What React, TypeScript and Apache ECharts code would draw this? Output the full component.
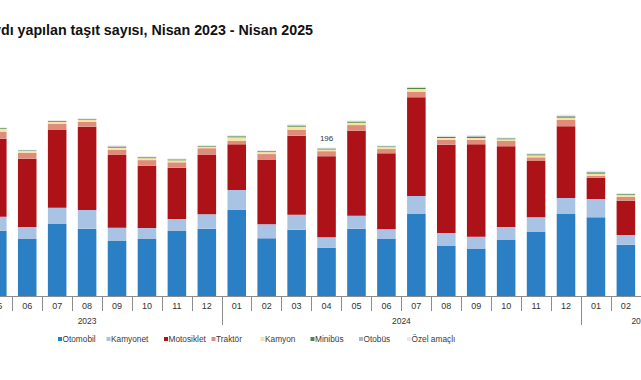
import React, { useEffect, useRef } from 'react';
import * as echarts from 'echarts';

// Nisan 2023 - Nisan 2025 (bin adet)
const months = ['04','05','06','07','08','09','10','11','12','01','02','03','04','05','06','07','08','09','10','11','12','01','02','03','04'];
const yearLabels: Record<string, string> = { '4': '2023', '14.5': '2024', '22.5': '2025' };
const yearLabelPositions = [4, 14.5, 22.5];
const yearDividers = [8.5, 20.5];

const otomobil   = [78, 86.3, 75.3, 95.2, 89, 72.7, 75.3, 85.9, 89, 113.7, 76.2, 87.7, 63.9, 89, 75.3, 108.4, 66.1, 62.1, 74, 84.6, 108.4, 104, 67.8, 80, 82];
const kamyonet   = [15, 18.5, 15.9, 21.5, 24.7, 17.6, 14.5, 15.9, 19, 26.4, 18.5, 19.8, 13.7, 17.1, 12.8, 23.8, 17.2, 16.3, 17.2, 19.4, 21.1, 24.2, 12.8, 16, 15];
const motosiklet = [75, 103.1, 90.3, 102.7, 110.1, 96.1, 82.3, 67.8, 78.4, 60.4, 85, 104.4, 107.2, 112.3, 100.4, 130.4, 116.7, 122.1, 106.7, 74.4, 94.8, 28.2, 45.3, 80, 95];
const traktor    = [7, 9.3, 7.9, 7.9, 6.6, 7, 7.5, 7.1, 8.9, 4.4, 7.9, 7.5, 6.6, 7.5, 5.7, 7, 6.2, 5.7, 7, 4.9, 8.3, 2.2, 5.3, 7, 6.5];
const kamyon     = [2.6, 3.5, 2.2, 3.1, 2.6, 2.6, 2.6, 2.6, 2.1, 4.8, 2.6, 4.4, 2.2, 3.1, 2.6, 4, 2.6, 2.6, 2.2, 2.6, 3.1, 3.1, 2.2, 2.5, 2.5];
const minibus    = [0.9, 1.0, 0.8, 0.8, 0.8, 1.3, 1.1, 1.1, 0.8, 1.3, 1.1, 1.3, 1.1, 1.3, 0.9, 1.3, 1.3, 1.7, 1.1, 1.3, 1.7, 1.7, 1.1, 1.1, 1.1];
const otobus     = [0.4, 0.5, 0.4, 0.4, 0.4, 0.7, 0.6, 0.6, 0.4, 0.7, 0.6, 0.7, 0.6, 0.7, 0.6, 0.7, 0.7, 0.9, 0.6, 0.7, 0.9, 0.9, 0.6, 0.6, 0.6];
const ozel       = [0.7, 0.7, 0.5, 0.6, 0.6, 1.1, 0.9, 0.9, 0.6, 1.1, 0.9, 1.1, 0.9, 1.1, 0.7, 1.1, 1.1, 1.4, 0.9, 1.1, 1.4, 1.4, 0.9, 0.8, 0.8];

const seriesNames = ['Otomobil', 'Kamyonet', 'Motosiklet', 'Traktör', 'Kamyon', 'Minibüs', 'Otobüs', 'Özel amaçlı'];
const seriesData = [otomobil, kamyonet, motosiklet, traktor, kamyon, minibus, otobus, ozel];
const colors = ['#2B7FC4', '#A9C3E5', '#AE1219', '#DF8C7B', '#F8E3A6', '#4E8A3B', '#A6B8CF', '#E9E9E9'];
const legendLefts = [58, 106.5, 164, 211.5, 260.5, 310.5, 359, 407];

const FONT = 'Liberation Sans, Arial, Helvetica, sans-serif';

export default function App() {
  const ref = useRef<HTMLDivElement>(null);
  useEffect(() => {
    const chart = echarts.init(ref.current!, null, { renderer: 'svg' });
    const totals = months.map((_, i) => seriesData.reduce((s, arr) => s + arr[i], 0));
    const series = seriesNames.map((name, k) => ({
      name,
      type: 'bar',
      stack: 'total',
      xAxisIndex: 0,
      yAxisIndex: 0,
      barCategoryGap: '38%',
      itemStyle: { color: colors[k] },
      data: seriesData[k].map((v, i) =>
        k === seriesNames.length - 1 && months[i] === '04'
          ? {
              value: v,
              label: {
                show: true,
                position: 'top',
                distance: 5,
                formatter: String(Math.round(totals[i])),
                fontSize: 8,
                fontFamily: FONT,
                color: '#333',
              },
            }
          : v
      ),
    }));
    chart.setOption({
      animation: false,
      backgroundColor: '#ffffff',
      textStyle: { fontFamily: FONT },
      grid: { left: -47.6, right: -59.7, top: 69, bottom: 84, outerBoundsMode: 'none', containLabel: false },
      legend: seriesNames.map((name, k) => ({
        data: [name],
        left: legendLefts[k],
        top: 335,
        itemWidth: 4,
        itemHeight: 4,
        icon: 'rect',
        padding: 0,
        selectedMode: false,
        textStyle: { fontSize: 8.3, color: '#3a3a3a', fontFamily: FONT, padding: [0, 0, 0, -4.5] },
      })),
      xAxis: [
        {
          type: 'category',
          data: months,
          position: 'bottom',
          axisLine: { show: true, lineStyle: { color: '#8c8c8c', width: 1 } },
          axisTick: { show: true, interval: 0, length: 15, lineStyle: { color: '#8c8c8c' } },
          axisLabel: { interval: 0, margin: 5, fontSize: 9, color: '#333', fontFamily: FONT },
        },
        {
          type: 'value',
          min: -0.5,
          max: 24.5,
          position: 'bottom',
          axisLine: { show: false },
          splitLine: { show: false },
          axisTick: { show: true, length: 29, customValues: yearDividers, lineStyle: { color: '#8c8c8c' } },
          axisLabel: {
            show: true,
            customValues: yearLabelPositions,
            margin: 20,
            fontSize: 8.5,
            color: '#333',
            fontFamily: FONT,
            formatter: (v: number) => yearLabels[String(v)] || '',
          },
        },
      ],
      yAxis: {
        type: 'value',
        min: 0,
        max: 300,
        show: false,
        splitLine: { show: false },
      },
      graphic: [
        {
          type: 'text',
          x: 313,
          y: 29.5,
          style: {
            text: 'Trafiğe kaydı yapılan taşıt sayısı, Nisan 2023 - Nisan 2025',
            fontSize: 14.25,
            fontWeight: 'bold',
            fontFamily: FONT,
            fill: '#111',
            textAlign: 'right',
            textVerticalAlign: 'middle',
          },
        },
      ],
      series,
    });
    return () => chart.dispose();
  }, []);
  return (
    <div
      ref={ref}
      style={{ position: 'fixed', left: 0, top: 0, width: 641, height: 380, background: '#fff' }}
    />
  );
}
